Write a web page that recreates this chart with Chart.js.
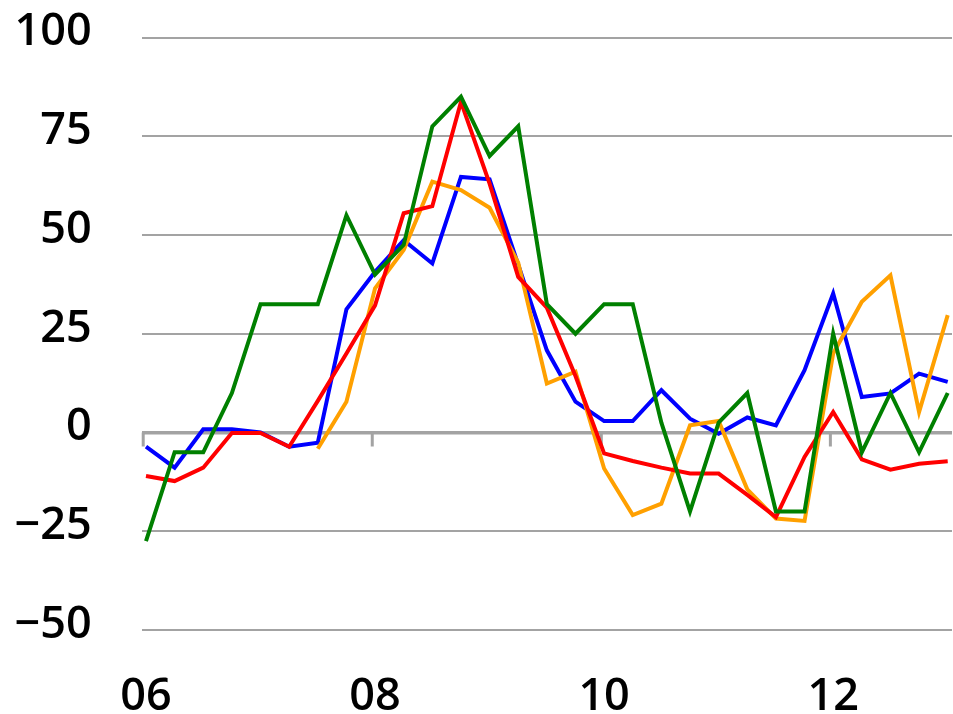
<!DOCTYPE html>
<html>
<head>
<meta charset="utf-8">
<script src="https://cdn.jsdelivr.net/npm/chart.js@4.4.1/dist/chart.umd.min.js"></script>
<style>
	body {margin: 0; background: #fff;}
	#wrap {width: 953px; height: 714px; position: relative;}
</style>
</head>
<body>
<div id="wrap"><canvas id="chart"></canvas></div>
<script>
// Quarterly points, 2006 Q1 to 2013 Q1
const quarters = [
	'06Q1', '06Q2', '06Q3', '06Q4', '07Q1', '07Q2', '07Q3', '07Q4',
	'08Q1', '08Q2', '08Q3', '08Q4', '09Q1', '09Q2', '09Q3', '09Q4',
	'10Q1', '10Q2', '10Q3', '10Q4', '11Q1', '11Q2', '11Q3', '11Q4',
	'12Q1', '12Q2', '12Q3', '12Q4', '13Q1'
];

const blue_values = [
	-3.6, -8.9, 0.8, 0.8, 0, -3.6, -2.6, 31.2, 40.7, 48.7, 42.8, 64.7, 64.1, 42.5, 20.8,
	7.8, 2.9, 2.9, 10.7, 3.5, -0.3, 3.8, 1.8, 15.8, 35.2, 9.0, 9.9, 14.9, 12.8
];
const red_values = [
	-11, -12.3, -8.9, -0.1, -0.1, -3.6, 8, 20, 32.2, 55.5, 57.3, 83.7, 63, 39.4, 31.6,
	14.3, -5.3, -7.2, -8.9, -10.4, -10.4, -15.8, -21.4, -6.2, 5.2, -6.8, -9.4, -7.9, -7.3
];
const green_values = [
	-27.5, -5, -5, 10, 32.5, 32.5, 32.5, 55, 40, 47.5, 77.5, 85, 70, 77.5, 32.5,
	25, 32.5, 32.5, 2.5, -20, 2.5, 10, -20, -20, 25, -5, 10, -5, 10
];
const orange_values = [
	null, null, null, null, null, null, -4.1, 7.8, 36.5, 46.2, 63.5, 61.4, 56.9, 43, 12.4,
	15.4, -9.1, -20.9, -18, 1.8, 2.9, -14.4, -21.8, -22.4, 20, 33.1, 39.8, 5.2, 29.7
];

const year_labels = ['06', '08', '10', '12'];
const year_index = [0, 8, 16, 24]; // quarter index where each labelled year starts
const year_mark_shift = -0.15; // little marks on the zero line sit just before the first quarter

const grid_grey = '#a3a3a3';
const font_main = {family: '"Open Sans", "DejaVu Sans", sans-serif', size: 45, weight: 600};

// Turn a value list into {x, y} points on the quarter index
function toPoints (values) {
	return values.map ((v, i) => ({x: i, y: v}));
}

// Small downward ticks on the zero line at each labelled year
const yearMarks = {
	id: 'yearMarks',
	beforeDatasetsDraw (chart) {
		const x_scale = chart.scales.x;
		const y_scale = chart.scales.y;
		const y0 = y_scale.getPixelForValue (0);
		const c = chart.ctx;
		c.save ();
		c.strokeStyle = grid_grey;
		c.lineWidth = 3;
		year_index.forEach (v => {
			const x = x_scale.getPixelForValue (v + year_mark_shift);
			c.beginPath ();
			c.moveTo (x + 1.5, y0);
			c.lineTo (x + 1.5, y0 + 14);
			c.stroke ();
		});
		c.restore ();
	}
};

const ctx = document.getElementById ('chart');

new Chart (ctx, {
	type: 'line',
	data: {
		datasets: [
			{label: 'green', data: toPoints (green_values), borderColor: '#008000'},
			{label: 'red', data: toPoints (red_values), borderColor: '#ff0000'},
			{label: 'orange', data: toPoints (orange_values), borderColor: '#ffa000'},
			{label: 'blue', data: toPoints (blue_values), borderColor: '#0000ff'}
		]
	},
	options: {
		maintainAspectRatio: false,
		animation: false,
		events: [],
		layout: {
			padding: {top: 37.5, right: 1, left: 0, bottom: 0}
		},
		elements: {
			line: {borderWidth: 4, tension: 0, fill: false},
			point: {radius: 0}
		},
		plugins: {
			legend: {display: false},
			tooltip: {enabled: false}
		},
		scales: {
			x: {
				type: 'linear',
				min: year_mark_shift,
				max: quarters.length - 1 + 0.15,
				grid: {display: false},
				border: {display: false},
				afterBuildTicks: axis => {
					axis.ticks = year_index.map (v => ({value: v}));
				},
				afterFit: axis => {
					axis.height = 84;
					axis.paddingLeft = 0;
					axis.paddingRight = 0;
				},
				ticks: {
					callback: (value, index) => year_labels[index],
					font: font_main,
					color: '#000',
					padding: 32,
					maxRotation: 0,
					autoSkip: false
				}
			},
			y: {
				min: -50,
				max: 100,
				afterFit: axis => {
					axis.width = 141.7;
					axis.paddingTop = 0;
					axis.paddingBottom = 0;
				},
				grid: {
					color: grid_grey,
					lineWidth: c => c.tick && c.tick.value === 0 ? 3.4 : 2,
					drawTicks: false
				},
				border: {display: false},
				ticks: {
					stepSize: 25,
					callback: value => String (value).replace ('-', '\u2212'),
					font: font_main,
					color: '#000',
					padding: 50,
					labelOffset: -5
				}
			}
		}
	},
	plugins: [yearMarks]
});
</script>
</body>
</html>
